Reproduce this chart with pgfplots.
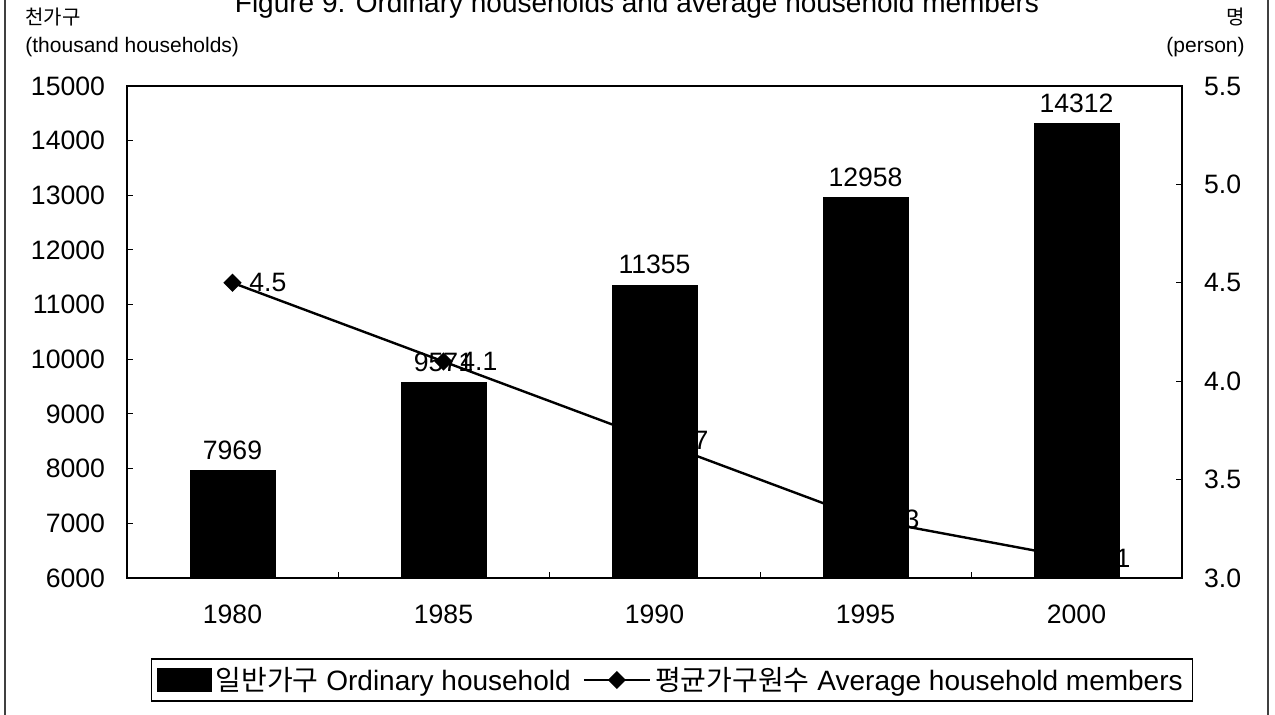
\documentclass[border=0pt]{standalone}
\usepackage{pgfplots}
\pgfplotsset{compat=1.18}
\usepackage{fontspec}
\setmainfont{Liberation Sans}
\newfontfamily\kr{Noto Sans CJK KR}
\pgfkeys{/pgf/number format/1000 sep={}}

\begin{document}
\begin{tikzpicture}
\path[use as bounding box] (0,0) rectangle (637.5pt,357.5pt);
\draw[black!75, line width=0.9pt] (2.5pt,0) -- (2.5pt,357.5pt);
\draw[black!75, line width=0.9pt] (634pt,0) -- (634pt,357.5pt);

\node[anchor=base, font=\fontsize{14}{16}\selectfont, inner sep=0] at (318.5pt,351pt) {Figure 9. Ordinary households and average household members};
\node[anchor=west, font=\kr\fontsize{10}{12}\selectfont, inner sep=0] at (12.5pt,349pt) {천가구};
\node[anchor=west, font=\fontsize{10.5}{12}\selectfont, inner sep=0] at (12.5pt,334pt) {(thousand households)};
\node[anchor=east, font=\kr\fontsize{10}{12}\selectfont, inner sep=0] at (622.5pt,349pt) {명};
\node[anchor=east, font=\fontsize{10.5}{12}\selectfont, inner sep=0] at (622.5pt,334pt) {(person)};

\begin{axis}[
  at={(63.5pt,68.5pt)}, anchor=south west,
  scale only axis, width=527.5pt, height=246pt,
  xmin=-0.5, xmax=4.5, ymin=6000, ymax=15000,
  xtick={0.5,1.5,2.5,3.5}, xticklabels={},
  extra x ticks={0,1,2,3,4},
  extra x tick labels={1980,1985,1990,1995,2000},
  extra x tick style={major tick length=0pt},
  ytick={6000,7000,...,15000},
  scaled y ticks=false,
  tick align=inside, xtick pos=bottom, ytick pos=left,
  major tick length=3pt,
  tick label style={font=\fontsize{13.3}{15}\selectfont},
  xticklabel style={yshift=-10pt},
  yticklabel style={xshift=-7.5pt},
  /pgf/number format/assume math mode=true,
  axis line style={line width=0.8pt},
  tick style={black, line width=0.5pt},
  clip=false,
]
\addplot[ybar, bar width=42.5pt, fill=black, draw=black,
  nodes near coords,
  every node near coord/.append style={font=\fontsize{13.3}{15}\selectfont, yshift=2pt, /pgf/number format/assume math mode=true}]
  coordinates {(0,7969) (1,9571) (2,11355) (3,12958) (4,14312)};
\end{axis}

\begin{axis}[
  at={(63.5pt,68.5pt)}, anchor=south west,
  scale only axis, width=527.5pt, height=246pt,
  xmin=-0.5, xmax=4.5, ymin=3, ymax=5.5,
  axis x line=none, axis y line*=right,
  axis line style={-, line width=0.8pt},
  ytick={3,3.5,4,4.5,5,5.5},
  tick align=inside, major tick length=3pt,
  tick style={black, line width=0.5pt},
  tick label style={font=\fontsize{13.3}{15}\selectfont},
  yticklabel style={xshift=7.5pt, /pgf/number format/.cd, fixed, fixed zerofill, precision=1},
  /pgf/number format/assume math mode=true,
  clip=false,
  legend columns=-1,
  legend style={at={(0.5166,-0.2073)}, anchor=center, draw=black, line width=0.6pt,
    font=\fontsize{14}{16}\selectfont, inner xsep=3pt, inner ysep=2pt,
    nodes={inner sep=2pt},
    /tikz/every even column/.append style={column sep=4pt}},
]
\addlegendimage{legend image code/.code={\draw[fill=black,draw=black] (0pt,-5.5pt) rectangle (26.5pt,5.5pt);}}
\addlegendentry{{\kr 일반가구} Ordinary household}
\addplot[black, line width=1.2pt, mark=square*, mark size=2.6pt, mark options={rotate=45, solid},
  nodes near coords,
  every node near coord/.append style={anchor=west, xshift=4.5pt, font=\fontsize{13.3}{15}\selectfont, /pgf/number format/assume math mode=true},
  legend image code/.code={\draw[black, line width=1.2pt, mark=square*, mark size=2.6pt, mark options={rotate=45, solid}, mark repeat=2, mark phase=2] plot coordinates {(0pt,0pt) (16.5pt,0pt) (33pt,0pt)};}]
  coordinates {(0,4.5) (1,4.1) (2,3.7) (3,3.3) (4,3.1)};
\addlegendentry{{\kr 평균가구원수} Average household members}
\end{axis}
\end{tikzpicture}
\end{document}
